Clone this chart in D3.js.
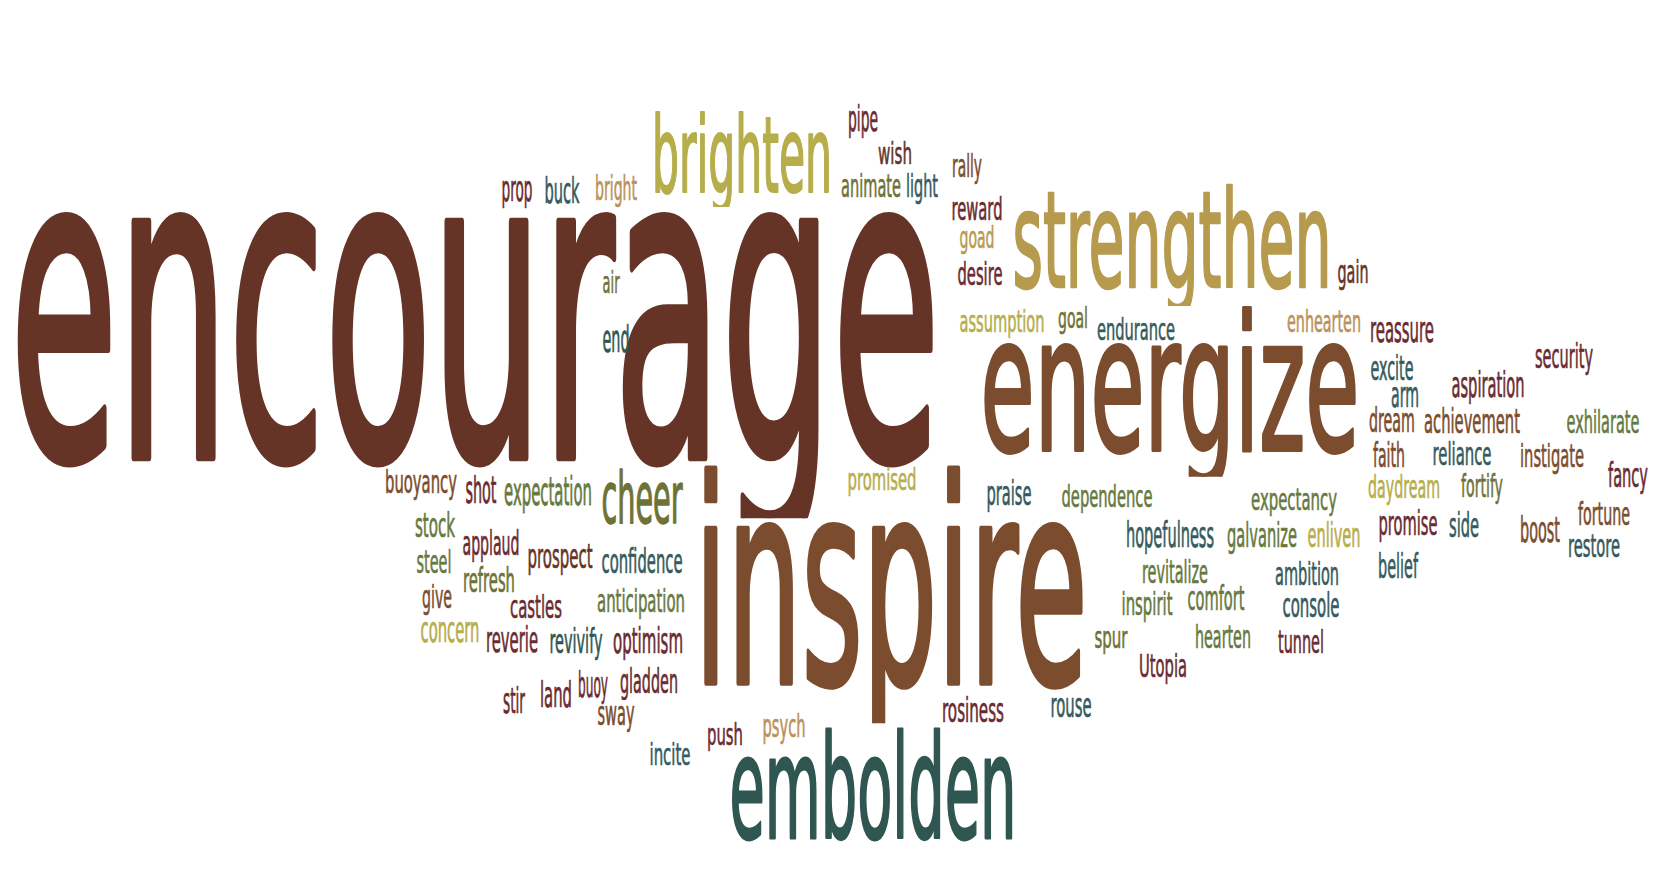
<!DOCTYPE html>
<html><head><meta charset="utf-8">
<script src="https://cdn.jsdelivr.net/npm/d3@7"></script>
<style>html,body{margin:0;padding:0;background:#fff;overflow:hidden}</style>
</head><body>
<svg id="c" width="1658" height="870"></svg>
<script>
// ---------- data ----------
const words = ["encourage","inspire","energize","strengthen","embolden","brighten","cheer",
"pipe","wish","prop","buck","bright","animate","light","rally","reward","goad","desire","gain","air","end",
"assumption","goal","endurance","enhearten","reassure","security","excite","arm","aspiration","dream","achievement",
"exhilarate","faith","reliance","instigate","fancy","daydream","fortify","dependence","expectancy","praise","promised",
"promise","side","boost","fortune","restore","hopefulness","galvanize","enliven","belief","revitalize","ambition",
"inspirit","comfort","console","spur","hearten","tunnel","Utopia","rosiness","rouse","psych","push","incite",
"buoyancy","shot","expectation","stock","applaud","prospect","confidence","steel","refresh","give","castles",
"anticipation","concern","reverie","revivify","optimism","stir","land","buoy","gladden","sway"];
// word weight (rendered x-height in cloud units)
const weights = [245,161,107,76,81,60,41,
20,17,20,20,19,18,18,18,18,17,18,18,17,21,
17,16,17,17,20,19,19,20,20,19,19,
18,19,18,18,19,18,18,17,17,19,17,
19,19,20,18,18,20,19,19,19,18,18,
18,19,19,17,18,18,18,19,19,18,17,17,
18,21,22,19,19,19,19,18,19,18,18,
18,20,20,19,20,20,20,20,19,19];
const colorGroups = ["B","C","C","E","I","F","G",
"A","B","A","J","D","G","J","C","A","E","A","B","G","I",
"F","G","J","D","A","A","J","J","A","C","C",
"H","C","J","C","A","F","G","H","H","J","F",
"A","J","C","C","J","J","H","F","J","H","J",
"H","H","J","G","H","A","A","A","J","D","A","J",
"C","A","H","H","A","B","J","H","G","C","A",
"H","F","A","I","A","A","A","A","A","C"];
const palette = {A:"#6a2b31",B:"#653427",C:"#7b4d2e",D:"#bb915a",E:"#b69b4e",
  F:"#b6ad4b",G:"#6e7236",H:"#66793f",I:"#2f5650",J:"#365a5d"};

// ---------- cloud layout (word centre, baseline, span) in cloud units ----------
const cloudX = [475,891,1170,1172,873,742,642,
863,895,517,562,616,871,922,967,977,977,980,1353,611,616,
1002,1073,1136,1324,1402,1564,1392,1405,1488,1392,1472,
1603,1389,1462,1552,1628,1404,1482,1107,1294,1009,882,
1408,1464,1540,1604,1594,1170,1262,1334,1398,1175,1307,
1147,1216,1311,1111,1223,1301,1163,973,1071,784,725,670,
421,481,548,435,491,560,642,434,489,437,536,
641,450,512,576,648,514,556,593,649,616];
const cloudY = [457,683,450,287,838,192,523,
131,164,201,203,200,197,197,177,220,248,285,283,293,352,
332,328,340,332,342,368,380,407,397,432,433,
433,467,465,467,487,498,497,507,510,505,490,
535,537,542,525,557,547,547,547,578,583,585,
615,610,617,648,648,653,677,722,717,737,745,765,
493,503,505,537,555,568,573,573,592,608,618,
612,642,652,653,653,713,707,697,693,725];
const cloudW = [930,393,379,319,287,180,81,
30,34,31,35,42,60,32,30,51,35,45,31,17,27,
85,30,78,74,64,58,43,28,73,46,96,
73,32,59,64,40,72,42,91,86,45,69,
59,30,40,52,52,88,70,53,40,66,64,
51,57,57,33,56,46,48,62,41,43,36,41,
72,31,88,40,57,65,81,35,52,30,52,
88,59,52,53,70,22,32,30,58,37];

// ---------- rendering ----------
const W = 1658, H = 870;
const FONT = "'Liberation Sans Narrow','DejaVu Sans Condensed','DejaVu Sans',sans-serif";
const ctx = document.createElement("canvas").getContext("2d");
ctx.font = "100px " + FONT;
const xhRatio = (ctx.measureText("x").actualBoundingBoxAscent || 54.7) / 100;
const strokeK = 0.02;
const shortDescender = 0.25;   // gothic face: short descenders (× x-height)

const x = d3.scaleLinear().domain([0, 1658]).range([0, W]);
const y = d3.scaleLinear().domain([0, 870]).range([0, H]);
const span = d3.scaleLinear().domain([0, 1658]).range([0, W]);
const fs = d3.scaleLinear().domain([0, 100]).range([0, 100 / (xhRatio + strokeK)]);

const data = words.map((w, i) => ({id: i, text: w, weight: weights[i], color: palette[colorGroups[i]],
  cx: cloudX[i], by: cloudY[i], sw: cloudW[i]}));

const svg = d3.select("#c");
const big = data.filter(d => d.weight >= 40);
svg.append("defs").selectAll("clipPath").data(big).join("clipPath")
  .attr("id", d => "clip" + d.id)
  .append("rect")
  .attr("x", 0).attr("y", 0).attr("width", W)
  .attr("height", d => y(d.by) + y(d.weight) * shortDescender);

svg.append("g").selectAll("text").data(data).join("text")
  .attr("x", d => x(d.cx) - span(d.sw) / 2)
  .attr("y", d => y(d.by))
  .attr("textLength", d => span(d.sw))
  .attr("lengthAdjust", "spacingAndGlyphs")
  .attr("clip-path", d => d.weight >= 40 ? `url(#clip${d.id})` : null)
  .attr("font-family", FONT)
  .attr("font-size", d => fs(d.weight))
  .attr("fill", d => d.color)
  .attr("stroke", d => d.color)
  .attr("stroke-width", d => fs(d.weight) * strokeK)
  .attr("stroke-linejoin", "round")
  .text(d => d.text);
</script>
</body></html>
